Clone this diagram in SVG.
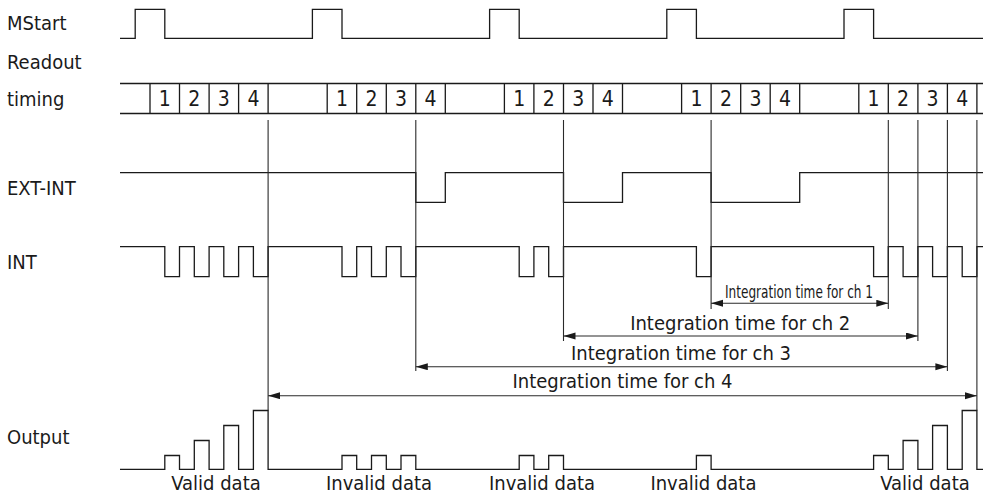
<svg xmlns="http://www.w3.org/2000/svg" width="983" height="495" viewBox="0 0 983 495">
<defs>
<style>
.sig{fill:none;stroke:#1a1a1a;stroke-width:1.3}
.ref{fill:none;stroke:#2a2a2a;stroke-width:1.1}
.arr{fill:none;stroke:#2a2a2a;stroke-width:1.1;marker-start:url(#ah);marker-end:url(#ah)}
text{font-family:"DejaVu Sans Condensed","DejaVu Sans",sans-serif;font-stretch:condensed;fill:#1a1a1a;font-size:20px}
.dig{text-anchor:middle;font-size:21px}
.lbl{text-anchor:middle}
</style>
<marker id="ah" markerUnits="userSpaceOnUse" markerWidth="13" markerHeight="8" refX="12" refY="3.5" orient="auto-start-reverse">
<path d="M0,0 L12,3.5 L0,7 z" fill="#1a1a1a"/>
</marker>
</defs>
<rect width="983" height="495" fill="#fff"/>

<g id="mstart">
<text x="7" y="30">MStart</text>
<path class="sig" d="M120,38.3 H135.2 V9.3 H164.8 V38.3 H312.4 V9.3 H342 V38.3 H489.6 V9.3 H519.2 V38.3 H666.8 V9.3 H696.4 V38.3 H844 V9.3 H873.6 V38.3 H983"/>
</g>

<g id="readout">
<text x="7" y="69">Readout</text>
<text x="7" y="106">timing</text>
<path class="sig" d="M120,83.5 H983 M120,113.5 H983 M150,83.5 V113.5 M179.5,83.5 V113.5 M209.1,83.5 V113.5 M238.6,83.5 V113.5 M268.1,83.5 V113.5 M327.2,83.5 V113.5 M356.7,83.5 V113.5 M386.3,83.5 V113.5 M415.8,83.5 V113.5 M445.3,83.5 V113.5 M504.4,83.5 V113.5 M533.9,83.5 V113.5 M563.5,83.5 V113.5 M593,83.5 V113.5 M622.5,83.5 V113.5 M681.6,83.5 V113.5 M711.1,83.5 V113.5 M740.7,83.5 V113.5 M770.2,83.5 V113.5 M799.7,83.5 V113.5 M858.8,83.5 V113.5 M888.3,83.5 V113.5 M917.9,83.5 V113.5 M947.4,83.5 V113.5 M976.9,83.5 V113.5"/>
<text class="dig" x="164.8" y="106">1</text><text class="dig" x="194.3" y="106">2</text><text class="dig" x="223.8" y="106">3</text><text class="dig" x="253.4" y="106">4</text>
<text class="dig" x="342" y="106">1</text><text class="dig" x="371.5" y="106">2</text><text class="dig" x="401" y="106">3</text><text class="dig" x="430.6" y="106">4</text>
<text class="dig" x="519.2" y="106">1</text><text class="dig" x="548.7" y="106">2</text><text class="dig" x="578.2" y="106">3</text><text class="dig" x="607.8" y="106">4</text>
<text class="dig" x="696.4" y="106">1</text><text class="dig" x="725.9" y="106">2</text><text class="dig" x="755.4" y="106">3</text><text class="dig" x="785" y="106">4</text>
<text class="dig" x="873.6" y="106">1</text><text class="dig" x="903.1" y="106">2</text><text class="dig" x="932.6" y="106">3</text><text class="dig" x="962.2" y="106">4</text>
</g>

<g id="ext-int">
<text x="7" y="195">EXT-INT</text>
<path class="sig" d="M120,172.7 H415.8 V202.3 H445.3 V172.7 H563.5 V202.3 H622.5 V172.7 H711.1 V202.3 H799.7 V172.7 H983"/>
</g>

<g id="int">
<text x="7" y="269">INT</text>
<path class="sig" d="M120,246.7 H164.8 V276.7 H179.5 V246.7 H194.3 V276.7 H209.1 V246.7 H223.8 V276.7 H238.6 V246.7 H253.4 V276.7 H268.1 V246.7 H342 V276.7 H356.7 V246.7 H371.5 V276.7 H386.3 V246.7 H401 V276.7 H415.8 V246.7 H519.2 V276.7 H533.9 V246.7 H548.7 V276.7 H563.5 V246.7 H696.4 V276.7 H711.1 V246.7 H873.6 V276.7 H888.3 V246.7 H903.1 V276.7 H917.9 V246.7 H932.6 V276.7 H947.4 V246.7 H962.2 V276.7 H976.9 V246.7 H983"/>
</g>

<g id="output">
<text x="7" y="444">Output</text>
<path class="sig" d="M120,469.3 H164.8 V455.5 H179.5 V469.3 H194.3 V440.5 H209.1 V469.3 H223.8 V425.5 H238.6 V469.3 H253.4 V410.5 H268.1 V469.3 H342 V455.5 H356.7 V469.3 H371.5 V455.5 H386.3 V469.3 H401 V455.5 H415.8 V469.3 H519.2 V455.5 H533.9 V469.3 H548.7 V455.5 H563.5 V469.3 H696.4 V455.5 H711.1 V469.3 H873.6 V455.5 H888.3 V469.3 H903.1 V440.5 H917.9 V469.3 H932.6 V425.5 H947.4 V469.3 H962.2 V410.5 H976.9 V469.3 H983"/>
<text class="lbl" x="216" y="489.5">Valid data</text>
<text class="lbl" x="379" y="489.5">Invalid data</text>
<text class="lbl" x="542" y="489.5">Invalid data</text>
<text class="lbl" x="703.4" y="489.5">Invalid data</text>
<text class="lbl" x="925" y="489.5">Valid data</text>
</g>

<g id="connectors">
<path class="ref" d="M268.1,120 V410.5 M415.8,120 V371 M563.5,120 V341 M711.1,120 V309 M888.3,120 V309 M917.9,120 V341 M947.4,120 V371 M976.9,120 V410.5"/>
<line class="arr" x1="711.1" y1="303.3" x2="888.3" y2="303.3"/>
<line class="arr" x1="563.5" y1="336" x2="917.9" y2="336"/>
<line class="arr" x1="415.8" y1="366.7" x2="947.4" y2="366.7"/>
<line class="arr" x1="268.1" y1="395.7" x2="976.9" y2="395.7"/>
<text x="799" y="297.5" text-anchor="middle" textLength="148" lengthAdjust="spacingAndGlyphs" style="font-size:17px">Integration time for ch 1</text>
<text class="lbl" x="740.2" y="330">Integration time for ch 2</text>
<text class="lbl" x="681" y="360">Integration time for ch 3</text>
<text class="lbl" x="622.5" y="388">Integration time for ch 4</text>
</g>
</svg>
